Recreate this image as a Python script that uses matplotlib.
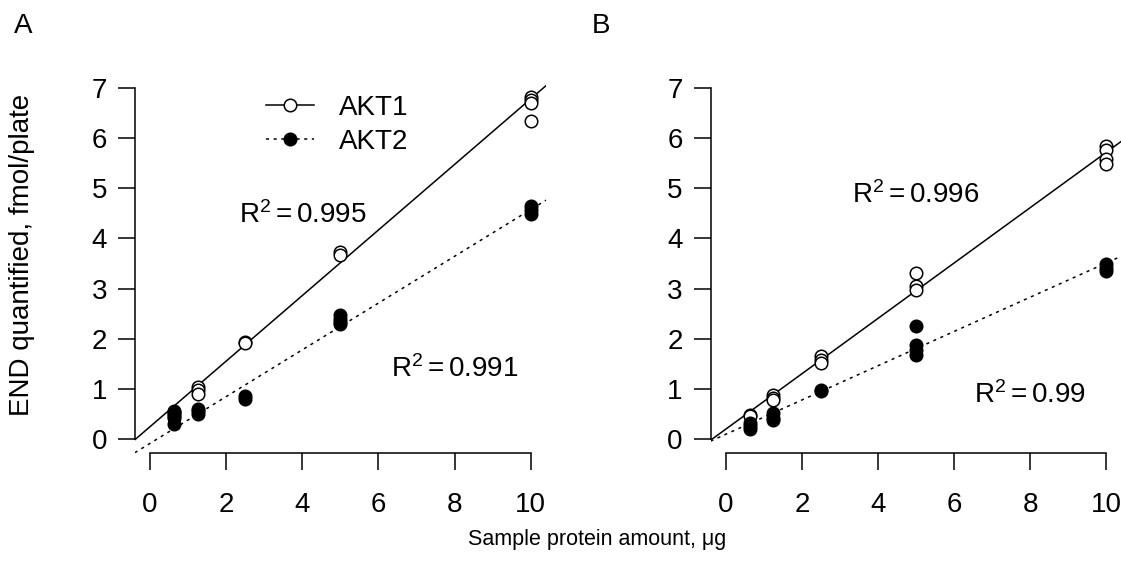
import matplotlib
matplotlib.use("Agg")
import matplotlib.pyplot as plt
from matplotlib.lines import Line2D

# ---------------- data ----------------
doses = [0.625, 1.25, 2.5, 5, 10]

a_akt1 = [[0.55, 0.50, 0.46], [1.04, 0.97, 0.90], [1.94, 1.91], [3.72, 3.66], [6.82, 6.77, 6.70, 6.35]]
a_akt2 = [[0.53, 0.42, 0.30], [0.60, 0.55, 0.50], [0.86, 0.80], [2.47, 2.40, 2.33, 2.29], [4.64, 4.57, 4.48]]
b_akt1 = [[0.47, 0.45], [0.88, 0.82, 0.77], [1.66, 1.58, 1.52], [3.32, 3.05, 2.98], [5.85, 5.76, 5.59, 5.49]]
b_akt2 = [[0.32, 0.25, 0.20], [0.51, 0.42, 0.37], [0.98, 0.95], [2.25, 1.88, 1.78, 1.68], [3.50, 3.41, 3.36]]

# fitted regression lines: (slope, intercept)
a_fit = {"AKT1": (0.654, 0.245), "AKT2": (0.4665, -0.088)}
b_fit = {"AKT1": (0.5526, 0.195), "AKT2": (0.342, 0.093)}

a_r2 = ["0.995", "0.991"]
b_r2 = ["0.996", "0.99"]
a_r2_pos = [(4.0, 4.47), (8.0, 1.39)]
b_r2_pos = [(5.0, 4.86), (8.0, 0.87)]

series_names = ["AKT1", "AKT2"]
x_ticks = [0, 2, 4, 6, 8, 10]
y_ticks = [0, 1, 2, 3, 4, 5, 6, 7]

# ---------------- style ----------------
plt.rcParams["font.family"] = ["Liberation Sans", "DejaVu Sans"]
plt.rcParams["mathtext.fontset"] = "custom"
plt.rcParams["mathtext.rm"] = "Liberation Sans"
plt.rcParams["mathtext.it"] = "Liberation Sans:italic"
plt.rcParams["mathtext.bf"] = "Liberation Sans:bold"

W, H = 1121, 569
fig = plt.figure(figsize=(W / 100, H / 100), dpi=100)


def px(l, b, r, t):
    return [l / W, 1 - b / H, (r - l) / W, (b - t) / H]


axA = fig.add_axes(px(134.8, 453, 546, 74))
axB = fig.add_axes(px(710.5, 453, 1121.7, 74))

DOT = (0, (2, 3))
MS = 9
MEW = 1.1
LW = 1.1


def flatten(vals):
    xs, ys = [], []
    for d, reps in zip(doses, vals):
        for v in reps:
            xs.append(d)
            ys.append(v)
    return xs, ys


def draw(ax, akt1, akt2, fit, r2, r2pos):
    ax.set_xlim(-0.4, 10.4)
    ax.set_ylim(-0.28, 7.28)
    for s in ("top", "right"):
        ax.spines[s].set_visible(False)
    ax.spines["left"].set_bounds(0, 7)
    ax.spines["bottom"].set_bounds(0, 10)
    for s in ("left", "bottom"):
        ax.spines[s].set_linewidth(LW)
    ax.set_xticks(x_ticks)
    ax.set_yticks(y_ticks)
    ax.tick_params(direction="out", length=12, width=LW, labelsize=20)
    ax.tick_params(axis="x", pad=16)
    ax.tick_params(axis="y", pad=8)

    m, b = fit["AKT1"]
    ax.axline((0, b), slope=m, color="black", lw=LW)
    m, b = fit["AKT2"]
    ax.axline((0, b), slope=m, color="black", lw=LW, linestyle=DOT)

    xs, ys = flatten(akt1)
    ax.plot(xs, ys, "o", mfc="white", mec="black", ms=MS, mew=MEW, linestyle="none", zorder=3)
    xs, ys = flatten(akt2)
    ax.plot(xs, ys, "o", mfc="black", mec="black", ms=MS, mew=MEW, linestyle="none", zorder=4)

    for val, (tx, ty) in zip(r2, r2pos):
        ax.text(tx, ty, r"$\mathregular{R^2 = %s}$" % val, ha="center", va="center", fontsize=20)


draw(axA, a_akt1, a_akt2, a_fit, a_r2, a_r2_pos)
draw(axB, b_akt1, b_akt2, b_fit, b_r2, b_r2_pos)

handles = [
    Line2D([], [], color="black", lw=LW, marker="o", mfc="white", mec="black", ms=MS, mew=MEW),
    Line2D([], [], color="black", lw=LW, linestyle=DOT, marker="o", mfc="black", mec="black", ms=MS, mew=MEW),
]
axA.legend(handles, series_names, loc="upper left", bbox_to_anchor=(0.318, 0.945),
           frameon=False, fontsize=20, handlelength=1.75, handletextpad=0.9,
           labelspacing=0.3, borderpad=0, borderaxespad=0)

fig.text(22 / W, 1 - 255 / H, "END quantified, fmol/plate", rotation=90,
         ha="center", va="center", fontsize=20)
fig.text(597 / W, 1 - 540 / H, "Sample protein amount, μg", ha="center", va="center", fontsize=15.5)
fig.text(23 / W, 1 - 26 / H, "A", ha="center", va="center", fontsize=20)
fig.text(601 / W, 1 - 26 / H, "B", ha="center", va="center", fontsize=20)

fig.savefig("out.png", dpi=100)
